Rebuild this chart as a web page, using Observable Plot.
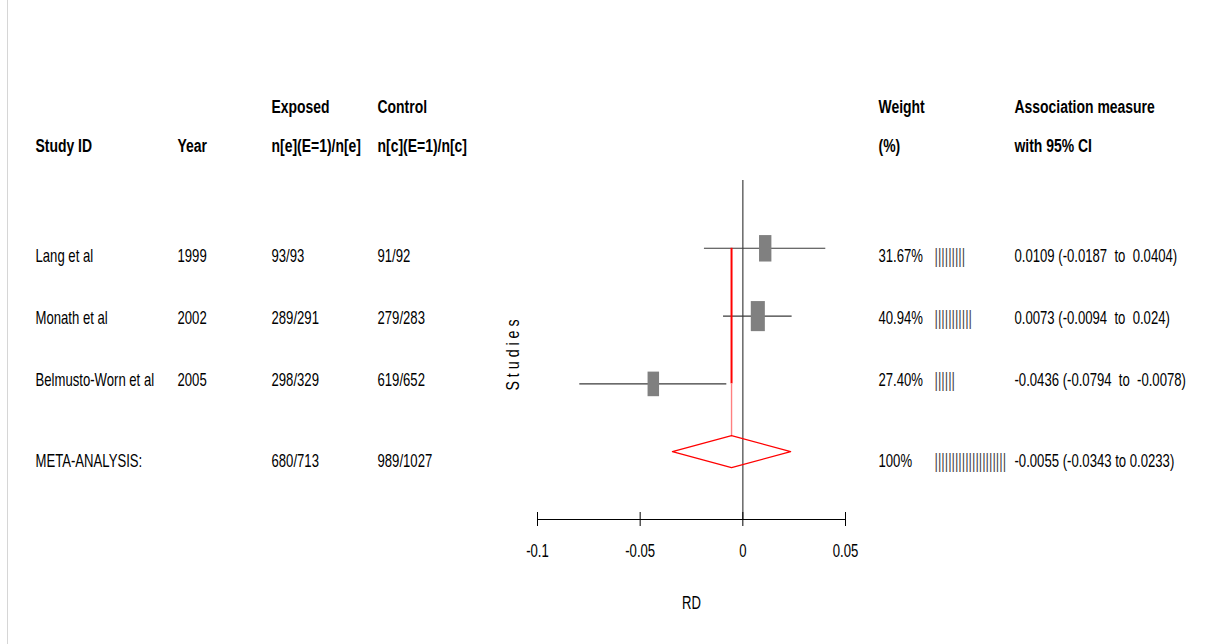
<!DOCTYPE html>
<html>
<head>
<meta charset="utf-8">
<script src="https://cdn.jsdelivr.net/npm/d3@7"></script>
<script src="https://cdn.jsdelivr.net/npm/@observablehq/plot@0.6"></script>
<style>
  html, body { margin: 0; padding: 0; background: #fff; overflow: hidden; }
  #wrap { position: relative; width: 1222px; height: 644px; }
  #wrap > svg { position: absolute; left: 0; top: 0; background: transparent; }
  #edge { position: absolute; left: 7px; top: 0; height: 644px; border-left: 1px solid #d6d6d6; }
  svg text { white-space: pre; }
</style>
</head>
<body>
<div id="wrap"><div id="edge"></div></div>
<script>
// ---------- data ----------
const studies   = ["Lang et al", "Monath et al", "Belmusto-Worn et al"];
const years     = [1999, 2002, 2005];
const exposed   = ["93/93", "289/291", "298/329"];
const control   = ["91/92", "279/283", "619/652"];
const rd        = [0.0109, 0.0073, -0.0436];
const lower     = [-0.0187, -0.0094, -0.0794];
const upper     = [0.0404, 0.024, -0.0078];
const weights   = [31.67, 40.94, 27.40];
const weightBarTicks = [9, 11, 6, 21];   // count of "|" marks in the weight bar column (study rows, then meta)

const metaLabel   = "META-ANALYSIS:";
const metaExposed = "680/713";
const metaControl = "989/1027";
const metaRD      = -0.0055;
const metaLower   = -0.0343;
const metaUpper   = 0.0233;
const metaWeight  = 100;

const xTicks = [-0.1, -0.05, 0, 0.05];
const headerTop    = ["", "", "Exposed", "Control", "Weight", "Association measure"];
const headerBottom = ["Study ID", "Year", "n[e](E=1)/n[e]", "n[c](E=1)/n[c]", "(%)", "with 95% CI"];

// ---------- derived tables ----------
const rows = studies.map((s, i) => ({
  study: s, year: String(years[i]), exposed: exposed[i], control: control[i],
  rd: rd[i], lo: lower[i], hi: upper[i], w: weights[i], row: i + 1,
  weightText: weights[i].toFixed(2) + "%",
  assoc: `${rd[i]} (${lower[i]}  to  ${upper[i]})`,
  bar: "|".repeat(weightBarTicks[i])
}));
const meta = {
  study: metaLabel, year: "", exposed: metaExposed, control: metaControl,
  rd: metaRD, lo: metaLower, hi: metaUpper, w: metaWeight, row: rows.length + 1,
  weightText: metaWeight + "%",
  assoc: `${metaRD} (${metaLower} to ${metaUpper})`,
  bar: "|".repeat(weightBarTicks[rows.length])
};
const table = [...rows, meta];

// ---------- layout (pixels) ----------
const W = 1222, H = 644;
const FONT = "'Liberation Sans', Arial, sans-serif";
// horizontal compression per font size, to imitate the narrow face of the original
const NARROW = {"18px": 0.729, "18.5px": 0.754, "21px": 0.625, "19px": 0.75};
const colX = [35, 177, 271, 377, 878, 1014];
const barX = 934;
const headY = [107, 146];
const tableY = [256, 318, 380, 461];
const diamondHalf = 0.236; // half height of the summary diamond, in row units

// ---------- forest plot ----------
const diamond = [
  {x: meta.lo, y: meta.row},
  {x: meta.rd, y: meta.row - diamondHalf},
  {x: meta.hi, y: meta.row},
  {x: meta.rd, y: meta.row + diamondHalf},
  {x: meta.lo, y: meta.row}
];
const rectSymbol = {
  draw(context, size) {
    const w = Math.sqrt(size / 2.14), h = 2.14 * w;
    context.rect(-w / 2, -h / 2, w, h);
  }
};
const firstRow = d3.min(rows, d => d.row), lastRow = d3.max(rows, d => d.row);

const forest = Plot.plot({
  width: W, height: H,
  marginLeft: 537, marginRight: W - 845, marginTop: 180, marginBottom: H - 519,
  style: {fontFamily: FONT, fontSize: "18px", background: "transparent", color: "#000", overflow: "visible"},
  x: {domain: [-0.1, 0.05], axis: null},
  y: {domain: [0, 5], reverse: true, axis: null},
  r: {type: "sqrt", domain: [0, d3.max(weights)], range: [0, 11.6]},
  marks: [
    Plot.ruleX([0], {stroke: "#5c5c5c", strokeWidth: 1.4}),
    Plot.ruleY([5], {stroke: "#000", strokeWidth: 1}),
    Plot.ruleX(xTicks, {x: d => d, y1: 5, y2: 5, insetTop: -7, insetBottom: -7, stroke: "#000", strokeWidth: 1}),
    Plot.text(xTicks, {x: d => d, text: d => String(d), frameAnchor: "bottom", dy: 37, fontSize: 18}),
    Plot.text(["RD"], {text: d => d, frameAnchor: "bottom", dy: 89, fontSize: 18}),
    Plot.text(["S t u d i e s"], {text: d => d, frameAnchor: "left", textAnchor: "middle", dx: -25, dy: 5, rotate: -90, fontSize: 19}),
    Plot.ruleY(rows, {y: "row", x1: "lo", x2: "hi", stroke: "#3a3a3a", strokeWidth: 1.1}),
    Plot.ruleX([meta], {x: "rd", y1: () => firstRow, y2: () => lastRow, stroke: "#ff0000", strokeWidth: 2}),
    Plot.ruleX([meta], {x: "rd", y1: () => lastRow, y2: d => d.row - diamondHalf, stroke: "#ff8080", strokeWidth: 1.4}),
    Plot.line(diamond, {x: "x", y: "y", stroke: "#ff0000", strokeWidth: 1.2}),
    Plot.dot(rows, {x: "rd", y: "row", r: "w", symbol: rectSymbol, fill: "#808080", stroke: "none"})
  ]
});

// ---------- table text ----------
const cellCols = ["study", "year", "exposed", "control"];
const cells = [];
table.forEach((d, i) => {
  cellCols.forEach((k, j) => cells.push({text: d[k], x: colX[j], y: tableY[i]}));
  cells.push({text: d.weightText, x: colX[4], y: tableY[i]});
  cells.push({text: d.assoc, x: colX[5], y: tableY[i]});
});
const bars = table.map((d, i) => ({text: d.bar, x: barX, y: tableY[i]}));
const heads = [
  ...headerTop.map((t, j) => ({text: t, x: colX[j], y: headY[0]})),
  ...headerBottom.map((t, j) => ({text: t, x: colX[j], y: headY[1]}))
].filter(d => d.text);

const tbl = Plot.plot({
  width: W, height: H, margin: 0,
  style: {fontFamily: FONT, fontSize: "18px", background: "transparent", color: "#000", overflow: "visible"},
  x: {domain: [0, W], range: [0, W], axis: null},
  y: {domain: [0, H], range: [0, H], axis: null},
  marks: [
    Plot.text(heads, {x: "x", y: "y", text: "text", textAnchor: "start", fontWeight: "bold", fontSize: 18.5}),
    Plot.text(cells, {x: "x", y: "y", text: "text", textAnchor: "start", fontSize: 18}),
    Plot.text(bars, {x: "x", y: "y", text: "text", textAnchor: "start", fontSize: 21, fill: "#444"})
  ]
});

const wrap = document.getElementById("wrap");
wrap.appendChild(tbl);
wrap.appendChild(forest);

// squeeze each text horizontally around its anchor (narrow-face look)
wrap.querySelectorAll("svg text").forEach(t => {
  const k = NARROW[getComputedStyle(t).fontSize] ?? 0.75;
  const x = parseFloat(t.getAttribute("x")) || 0;
  const tr = t.getAttribute("transform") || "";
  t.setAttribute("transform", `${tr} translate(${x},0) scale(${k},1) translate(${-x},0)`.trim());
});
</script>
</body>
</html>
